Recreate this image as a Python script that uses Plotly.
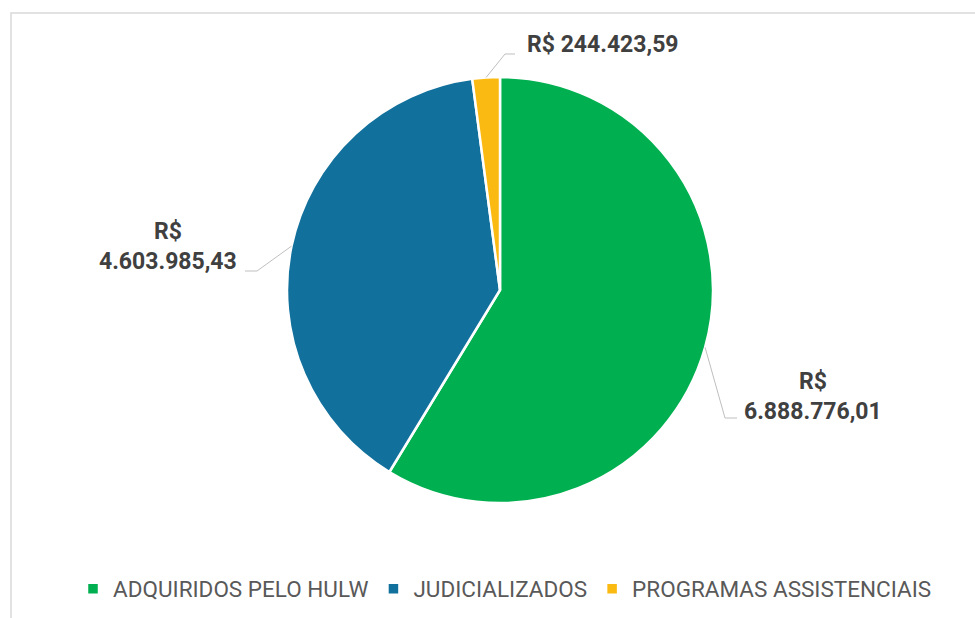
import math
import plotly.graph_objects as go

# Medication spending by acquisition channel (R$)
categories = ["ADQUIRIDOS PELO HULW", "JUDICIALIZADOS", "PROGRAMAS ASSISTENCIAIS"]
values = [6888776.01, 4603985.43, 244423.59]
colors = ["#00B050", "#11709C", "#FBBA12"]

W, H = 975, 618
CX, CY, R = 500, 290, 213  # pie centre and radius in pixels


def px(x):
    return x / W


def py(y):
    return 1 - y / H


def brl(v):
    s = f"{v:,.2f}"
    return "R$ " + s.replace(",", "X").replace(".", ",").replace("X", ".")


fig = go.Figure()
fig.add_trace(go.Pie(
    labels=categories,
    values=values,
    sort=False,
    direction="clockwise",
    rotation=0,
    textinfo="none",
    hoverinfo="label+value+percent",
    marker=dict(colors=colors, line=dict(color="white", width=2.5)),
    domain=dict(x=[px(CX - R), px(CX + R)], y=[py(CY + R), py(CY - R)]),
))

# Label layout: (text anchor x, y, xanchor, multiline, elbow, line end)
label_layout = [
    dict(x=813, y=396, xanchor="center", multiline=True, elbow=(725, 418), end=(737, 418)),
    dict(x=168, y=247, xanchor="center", multiline=True, elbow=(257, 271), end=(245, 271)),
    dict(x=525, y=45, xanchor="left", multiline=False, elbow=(505, 54), end=(515, 54)),
]

total = sum(values)
cum = 0.0
shapes = []
annotations = []
for v, lay in zip(values, label_layout):
    mid = (cum + v / 2) / total * 2 * math.pi
    cum += v
    sx = CX + R * math.sin(mid)
    sy = CY - R * math.cos(mid)
    ex, ey = lay["elbow"]
    tx, ty = lay["end"]
    shapes.append(dict(
        type="path",
        xref="paper", yref="paper",
        path=f"M {px(sx)},{py(sy)} L {px(ex)},{py(ey)} L {px(tx)},{py(ty)}",
        line=dict(color="#BFBFBF", width=1),
    ))
    text = brl(v)
    if lay["multiline"]:
        text = text.replace("R$ ", "R$<br>")
    annotations.append(dict(
        x=px(lay["x"]), y=py(lay["y"]), xref="paper", yref="paper",
        text=text, showarrow=False, xanchor=lay["xanchor"], yanchor="middle",
        align="center",
        font=dict(family="Roboto", size=23, color="#404040", weight="bold"),
    ))

# chart area frame
shapes.append(dict(
    type="rect", xref="paper", yref="paper",
    x0=px(11), x1=1.05, y0=-0.05, y1=py(13),
    line=dict(color="#D9D9D9", width=1.5), layer="below",
))

fig.update_layout(
    width=W, height=H,
    margin=dict(l=0, r=0, t=0, b=0),
    paper_bgcolor="white",
    plot_bgcolor="white",
    shapes=shapes,
    annotations=annotations,
    showlegend=True,
    legend=dict(
        orientation="h",
        x=px(505), xanchor="center",
        y=py(589), yanchor="middle",
        font=dict(family="Roboto", size=22.5, color="#595959"),
        itemclick=False,
    ),
)

fig.write_html("out.html")
